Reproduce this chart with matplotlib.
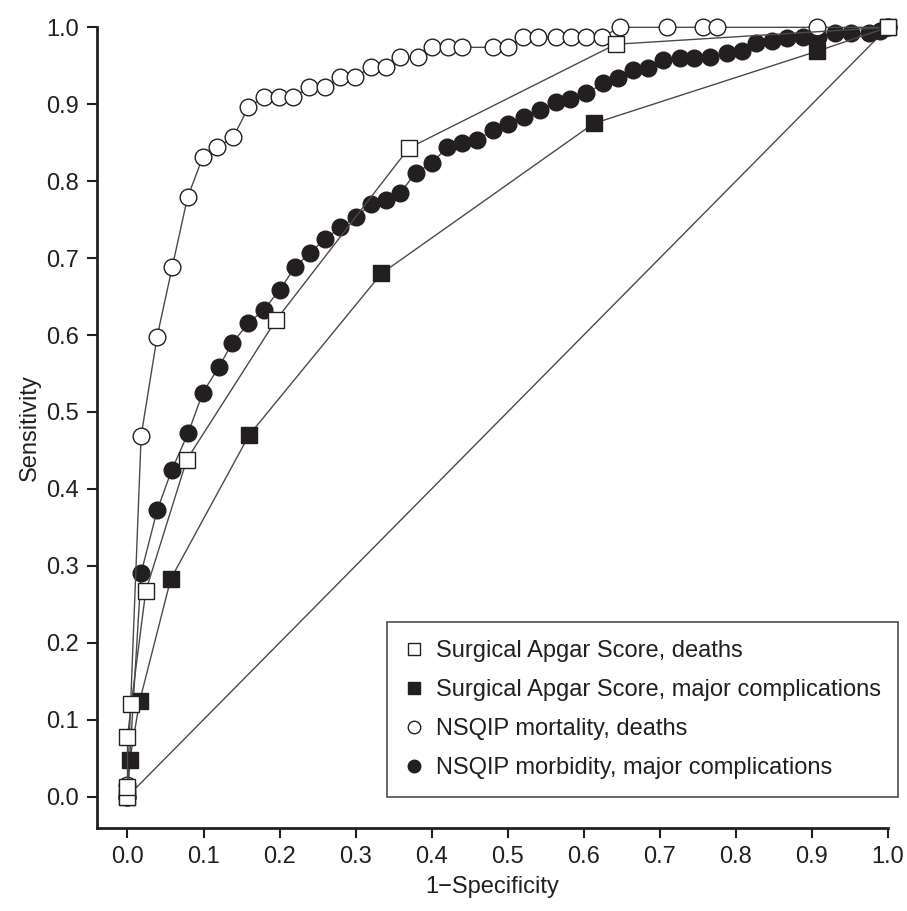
import numpy as np
import matplotlib
matplotlib.use("Agg")
import matplotlib.pyplot as plt
from matplotlib import font_manager

# ROC curve values
apgar_death_x = [0.0, 0.0, 0.0, 0.005, 0.024, 0.078, 0.195, 0.370, 0.642, 1.0]
apgar_death_y = [0.0, 0.012, 0.077, 0.120, 0.267, 0.438, 0.619, 0.843, 0.978, 1.0]

apgar_comp_x = [0.0, 0.003, 0.016, 0.057, 0.160, 0.334, 0.613, 0.907, 1.0]
apgar_comp_y = [0.0, 0.047, 0.124, 0.283, 0.470, 0.680, 0.875, 0.969, 1.0]

mort_x = [0.0, 0.0, 0.018, 0.039, 0.059, 0.079, 0.099, 0.118, 0.139, 0.159,
          0.179, 0.199, 0.218, 0.239, 0.260, 0.280, 0.299, 0.320, 0.340, 0.358,
          0.382, 0.400, 0.422, 0.440, 0.480, 0.500, 0.520, 0.540, 0.563, 0.583,
          0.603, 0.624, 0.647, 0.709, 0.757, 0.775, 0.907, 1.0]
mort_y = [0.0, 0.015, 0.469, 0.598, 0.689, 0.779, 0.831, 0.844, 0.857, 0.896,
          0.909, 0.909, 0.909, 0.922, 0.922, 0.935, 0.935, 0.948, 0.948, 0.961,
          0.961, 0.974, 0.974, 0.974, 0.974, 0.974, 0.987, 0.987, 0.987, 0.987,
          0.987, 0.987, 1.0, 1.0, 1.0, 1.0, 1.0, 1.0]

morb_x = [0.0, 0.018, 0.039, 0.058, 0.080, 0.099, 0.120, 0.138, 0.159, 0.179,
          0.200, 0.220, 0.240, 0.260, 0.280, 0.300, 0.320, 0.340, 0.359, 0.379,
          0.400, 0.420, 0.440, 0.460, 0.480, 0.500, 0.522, 0.543, 0.563, 0.582,
          0.603, 0.625, 0.645, 0.665, 0.684, 0.704, 0.726, 0.745, 0.766, 0.789,
          0.808, 0.826, 0.847, 0.867, 0.888, 0.908, 0.930, 0.952, 0.975, 0.990, 1.0]
morb_y = [0.0, 0.291, 0.372, 0.424, 0.473, 0.525, 0.558, 0.590, 0.615, 0.633,
          0.658, 0.688, 0.707, 0.725, 0.740, 0.753, 0.770, 0.775, 0.785, 0.811,
          0.823, 0.844, 0.849, 0.853, 0.867, 0.874, 0.883, 0.892, 0.903, 0.907,
          0.914, 0.927, 0.934, 0.945, 0.947, 0.958, 0.960, 0.960, 0.962, 0.966,
          0.969, 0.979, 0.982, 0.986, 0.987, 0.987, 0.992, 0.992, 0.992, 0.995, 1.0]

labels = ["Surgical Apgar Score, deaths",
          "Surgical Apgar Score, major complications",
          "NSQIP mortality, deaths",
          "NSQIP morbidity, major complications"]

names = {f.name for f in font_manager.fontManager.ttflist}
fam = "Liberation Sans Narrow" if "Liberation Sans Narrow" in names else "Liberation Sans"
plt.rcParams['font.family'] = [fam, 'DejaVu Sans']

ink = "#231f20"
line_c = "#4a4a4a"

fig = plt.figure(figsize=(9.07, 9.11), dpi=100)
ax = fig.add_axes([0.107, 0.091, 0.872, 0.879])

# chance line
ax.plot([0, 1], [0, 1], color=line_c, lw=1.0, zorder=1)

ms = 12
ax.plot(morb_x, morb_y, '-o', color=line_c, lw=1.0, ms=ms, mfc=ink, mec=ink,
        clip_on=False, zorder=3)
ax.plot(mort_x, mort_y, '-o', color=line_c, lw=1.0, ms=ms, mfc='white', mec=ink,
        mew=1.0, clip_on=False, zorder=4)
ax.plot(apgar_comp_x, apgar_comp_y, '-s', color=line_c, lw=1.0, ms=ms, mfc=ink,
        mec=ink, clip_on=False, zorder=5)
ax.plot(apgar_death_x, apgar_death_y, '-s', color=line_c, lw=1.0, ms=ms,
        mfc='white', mec=ink, mew=1.0, clip_on=False, zorder=6)

# legend handles: marker only
h1 = plt.Line2D([], [], ls='none', marker='s', ms=9, mfc='white', mec=ink, mew=1.0)
h2 = plt.Line2D([], [], ls='none', marker='s', ms=9, mfc=ink, mec=ink)
h3 = plt.Line2D([], [], ls='none', marker='o', ms=9, mfc='white', mec=ink, mew=1.0)
h4 = plt.Line2D([], [], ls='none', marker='o', ms=9, mfc=ink, mec=ink)
leg = ax.legend([h1, h2, h3, h4], labels, loc='lower right',
                bbox_to_anchor=(1.013, 0.039), fontsize=17, frameon=True,
                fancybox=False, edgecolor=ink, handlelength=0.8,
                handletextpad=0.5, labelspacing=0.72, borderpad=0.75,
                borderaxespad=0, labelcolor=ink)
leg.get_frame().set_linewidth(1.2)

ax.set_xlim(-0.04, 1.0)
ax.set_ylim(-0.041, 1.0)
ax.set_xticks(np.arange(0, 1.01, 0.1))
ax.set_yticks(np.arange(0, 1.01, 0.1))
ax.set_xticklabels([f"{v:.1f}" for v in np.arange(0, 1.01, 0.1)])
ax.set_yticklabels([f"{v:.1f}" for v in np.arange(0, 1.01, 0.1)])
ax.tick_params(direction='out', length=7, width=1.5, colors=ink, labelsize=17, pad=6)
for s in ['top', 'right']:
    ax.spines[s].set_visible(False)
for s in ['left', 'bottom']:
    ax.spines[s].set_linewidth(2)
    ax.spines[s].set_color(ink)

ax.set_xlabel("1\u2212Specificity", fontsize=17, color=ink, labelpad=6)
ax.set_ylabel("Sensitivity", fontsize=17, color=ink, labelpad=4)

fig.savefig("out.png", dpi=100)
